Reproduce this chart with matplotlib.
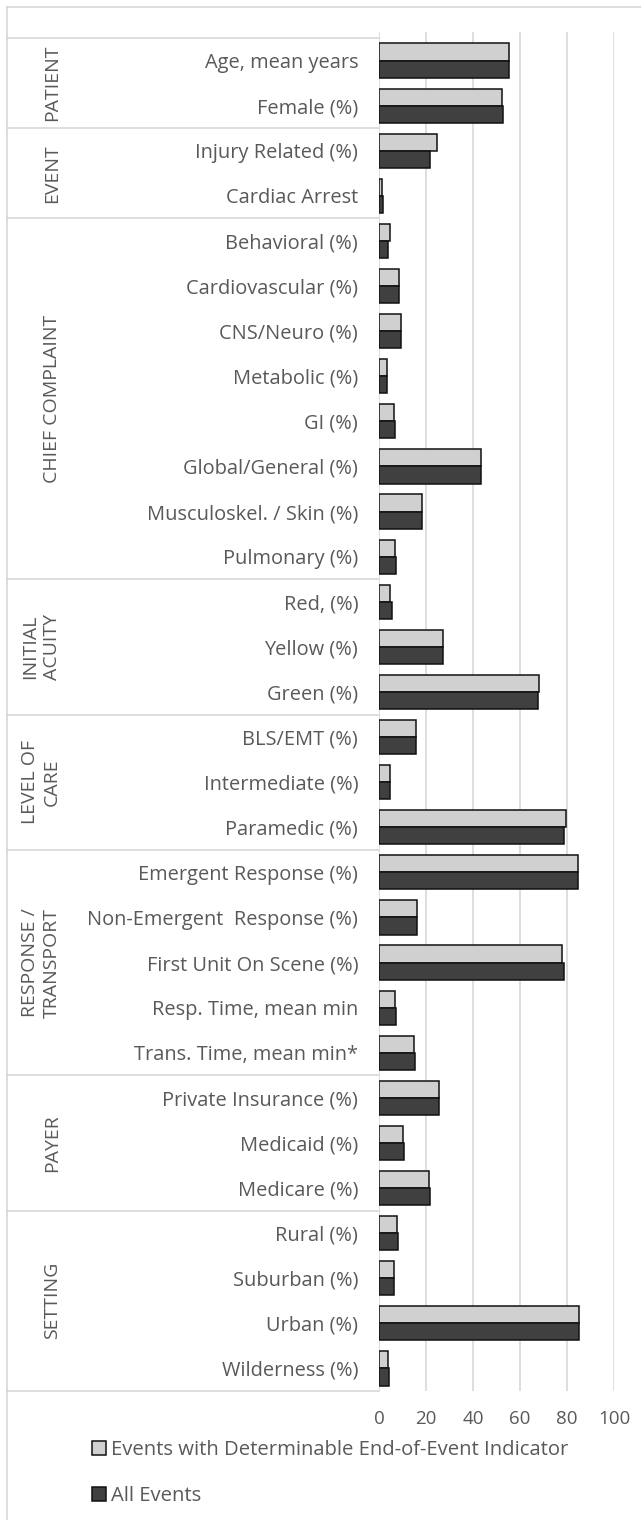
#!/usr/bin/env python3

import numpy as np
import matplotlib
matplotlib.use('Agg')
import matplotlib.pyplot as plt
from matplotlib.lines import Line2D
import matplotlib.transforms as mtransforms

# categories, top to bottom
categories = [
    'Age, mean years', 'Female (%)',
    'Injury Related (%)', 'Cardiac Arrest',
    'Behavioral (%)', 'Cardiovascular (%)', 'CNS/Neuro (%)', 'Metabolic (%)',
    'GI (%)', 'Global/General (%)', 'Musculoskel. / Skin (%)', 'Pulmonary (%)',
    'Red, (%)', 'Yellow (%)', 'Green (%)',
    'BLS/EMT (%)', 'Intermediate (%)', 'Paramedic (%)',
    'Emergent Response (%)', 'Non-Emergent  Response (%)', 'First Unit On Scene (%)',
    'Resp. Time, mean min', 'Trans. Time, mean min*',
    'Private Insurance (%)', 'Medicaid (%)', 'Medicare (%)',
    'Rural (%)', 'Suburban (%)', 'Urban (%)', 'Wilderness (%)',
]

groups = ['PATIENT', 'EVENT', 'CHIEF COMPLAINT', 'INITIAL\nACUITY', 'LEVEL OF\nCARE',
          'RESPONSE /\nTRANSPORT', 'PAYER', 'SETTING']
group_sizes = [2, 2, 8, 3, 3, 5, 3, 4]

determinable = [55.3, 52.4, 24.5, 1.4, 4.7, 8.7, 9.2, 3.3, 6.4, 43.5, 18.3, 6.9,
                4.7, 27.2, 68.2, 15.7, 4.5, 79.4, 84.7, 16.3, 78.0, 7.0, 14.9,
                25.4, 10.4, 21.3, 7.8, 6.3, 85.1, 3.8]
all_events = [55.3, 52.7, 21.9, 1.5, 4.0, 8.7, 9.2, 3.3, 6.6, 43.5, 18.3, 7.2,
              5.4, 27.4, 67.7, 15.7, 4.5, 78.7, 84.7, 16.3, 78.7, 7.2, 15.2,
              25.7, 10.6, 21.7, 8.1, 6.5, 85.1, 4.1]

xticks = [0, 20, 40, 60, 80, 100]

W, H = 641, 1520
TEXT = '#595959'
LINE = '#d4d4d4'
FONT = 'Open Sans'


def main():
    plt.rcParams['font.family'] = FONT
    fig = plt.figure(figsize=(W / 100, H / 100), dpi=100)
    ax = fig.add_axes([379 / W, 1 - 1391 / H, (614 - 379) / W, (1391 - 32) / H])

    n = len(categories)
    y = np.arange(n)
    h = 0.38
    ax.barh(y - h / 2, determinable, height=h, color='#d0d0d0', edgecolor='#111111',
            linewidth=1.1, label='Events with Determinable End-of-Event Indicator', zorder=3)
    ax.barh(y + h / 2, all_events, height=h, color='#404040', edgecolor='#111111',
            linewidth=1.1, label='All Events', zorder=3)

    ax.set_xlim(0, 100)
    ax.set_ylim(n - 0.5, -0.5 - 6 / 45.1)
    ax.set_xticks(xticks)
    ax.set_xticklabels([str(t) for t in xticks])
    ax.set_yticks(y)
    ax.set_yticklabels(categories)
    ax.tick_params(axis='y', length=0, pad=15, labelsize=14.4, labelcolor=TEXT)
    ax.tick_params(axis='x', length=0, pad=14, labelsize=13.5, labelcolor=TEXT)
    for s in ax.spines.values():
        s.set_visible(False)
    ax.grid(axis='x', color=LINE, linewidth=1.1, zorder=0)

    # label table: group separators and group names
    trans = mtransforms.blended_transform_factory(fig.transFigure, ax.transData)
    edges = np.concatenate([[0], np.cumsum(group_sizes)]) - 0.5
    for e in edges:
        ax.plot([7 / W, 379 / W], [e, e], color=LINE, linewidth=1.1,
                transform=trans, clip_on=False)
    for g, a, b in zip(groups, edges[:-1], edges[1:]):
        ax.text(61 / W, (a + b) / 2, g, transform=trans, rotation=90, ha='right',
                va='center', multialignment='center', fontsize=14, color=TEXT,
                linespacing=1.3)

    # outer frame
    fig.add_artist(Line2D([7 / W, 7 / W], [0, 1 - 7 / H], color=LINE, linewidth=1.1))
    fig.add_artist(Line2D([7 / W, 1], [1 - 7 / H, 1 - 7 / H], color=LINE, linewidth=1.1))

    leg = ax.legend(loc='upper left', bbox_to_anchor=(92 / W, 1 - 1440 / H),
                    bbox_transform=fig.transFigure, frameon=False, fontsize=14.6,
                    handlelength=0.7, handleheight=0.7, handletextpad=0.25,
                    labelspacing=1.3, borderpad=0, borderaxespad=0)
    for t in leg.get_texts():
        t.set_color(TEXT)

    fig.savefig('out.png', dpi=100)


if __name__ == '__main__':
    main()
